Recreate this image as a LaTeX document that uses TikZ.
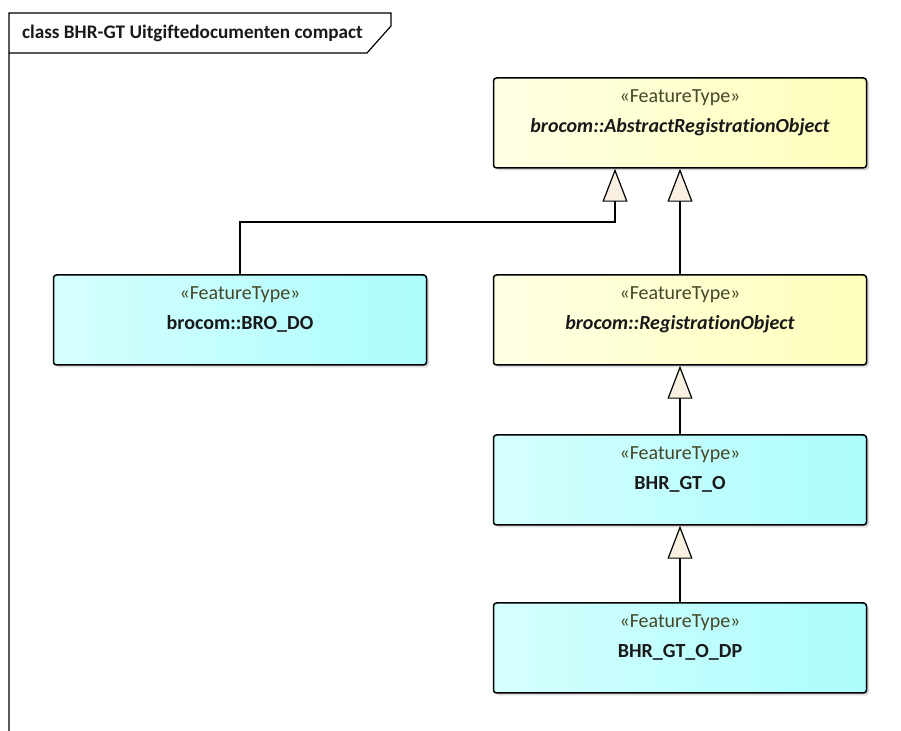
\documentclass[tikz,border=0pt]{standalone}
\usepackage{fontspec}
\setmainfont{Carlito}[RawFeature={-liga;-clig;-calt;-dlig}]
\usetikzlibrary{arrows.meta,shadows,calc}

\newlength{\du}
\setlength{\du}{0.5pt}

\definecolor{cyanleft}{RGB}{214,255,255}
\definecolor{cyanright}{RGB}{172,252,252}
\definecolor{yellowleft}{RGB}{255,255,228}
\definecolor{yellowright}{RGB}{255,255,188}
\definecolor{stereocolor}{RGB}{70,70,40}
\definecolor{namecolor}{RGB}{25,25,25}
\definecolor{tipfill}{RGB}{250,240,225}

\tikzset{
  classbox/.style={draw=black, line width=0.75pt, rounded corners=1.5pt,
    minimum width=373\du, minimum height=90\du, inner sep=0pt,
    drop shadow={shadow xshift=2.5\du, shadow yshift=-2.5\du, opacity=0.3}},
  featbox/.style={classbox, left color=cyanleft, right color=cyanright},
  abstbox/.style={classbox, left color=yellowleft, right color=yellowright},
  stereo/.style={text=stereocolor, font=\fontsize{10}{12}\selectfont},
  classname/.style={text=namecolor, font=\fontsize{10}{12}\selectfont\bfseries},
  absname/.style={classname, font=\fontsize{10}{12}\selectfont\bfseries\itshape},
  generalize/.style={line width=0.75pt,
    -{Triangle[length=16.5pt, width=12.5pt, fill=tipfill, line width=0.6pt]}}
}

\begin{document}
\begin{tikzpicture}
\useasboundingbox (0\du,0\du) rectangle (901\du,-731\du);
% frame
\draw[line width=0.6pt] (9\du,-731\du) -- (9\du,-13\du) -- (391\du,-13\du)
  -- (391\du,-26\du) -- (367\du,-53\du) -- (9\du,-53\du);
\node[anchor=west, text=namecolor, font=\fontsize{9.6}{11}\selectfont\bfseries] (title)
  at (15\du,-33\du) {class BHR-GT Uitgiftedocumenten compact};
% classes
\node[abstbox] (abs) at (680\du,-123\du) {};
\node[stereo] (abs-st) at ($(abs)+(0,25\du)$) {«FeatureType»};
\node[absname] (abs-nm) at ($(abs)+(0,-4\du)$) {brocom::AbstractRegistrationObject};
\node[featbox] (bro) at (240\du,-320\du) {};
\node[stereo] (bro-st) at ($(bro)+(0,25\du)$) {«FeatureType»};
\node[classname] (bro-nm) at ($(bro)+(0,-4\du)$) {brocom::BRO\_DO};
\node[abstbox] (reg) at (680\du,-320\du) {};
\node[stereo] (reg-st) at ($(reg)+(0,25\du)$) {«FeatureType»};
\node[absname] (reg-nm) at ($(reg)+(0,-4\du)$) {brocom::RegistrationObject};
\node[featbox] (gto) at (680\du,-480\du) {};
\node[stereo] (gto-st) at ($(gto)+(0,25\du)$) {«FeatureType»};
\node[classname] (gto-nm) at ($(gto)+(0,-4\du)$) {BHR\_GT\_O};
\node[featbox] (dp) at (680\du,-648\du) {};
\node[stereo] (dp-st) at ($(dp)+(0,25\du)$) {«FeatureType»};
\node[classname] (dp-nm) at ($(dp)+(0,-4\du)$) {BHR\_GT\_O\_DP};
% generalizations
\coordinate (bend) at (615\du,-222\du);
\draw[generalize] (bro.north) |- (bend) -- (bend |- abs.south);
\draw[generalize] (reg.north) -- (abs.south);
\draw[generalize] (gto.north) -- (reg.south);
\draw[generalize] (dp.north) -- (gto.south);
\end{tikzpicture}
\end{document}
